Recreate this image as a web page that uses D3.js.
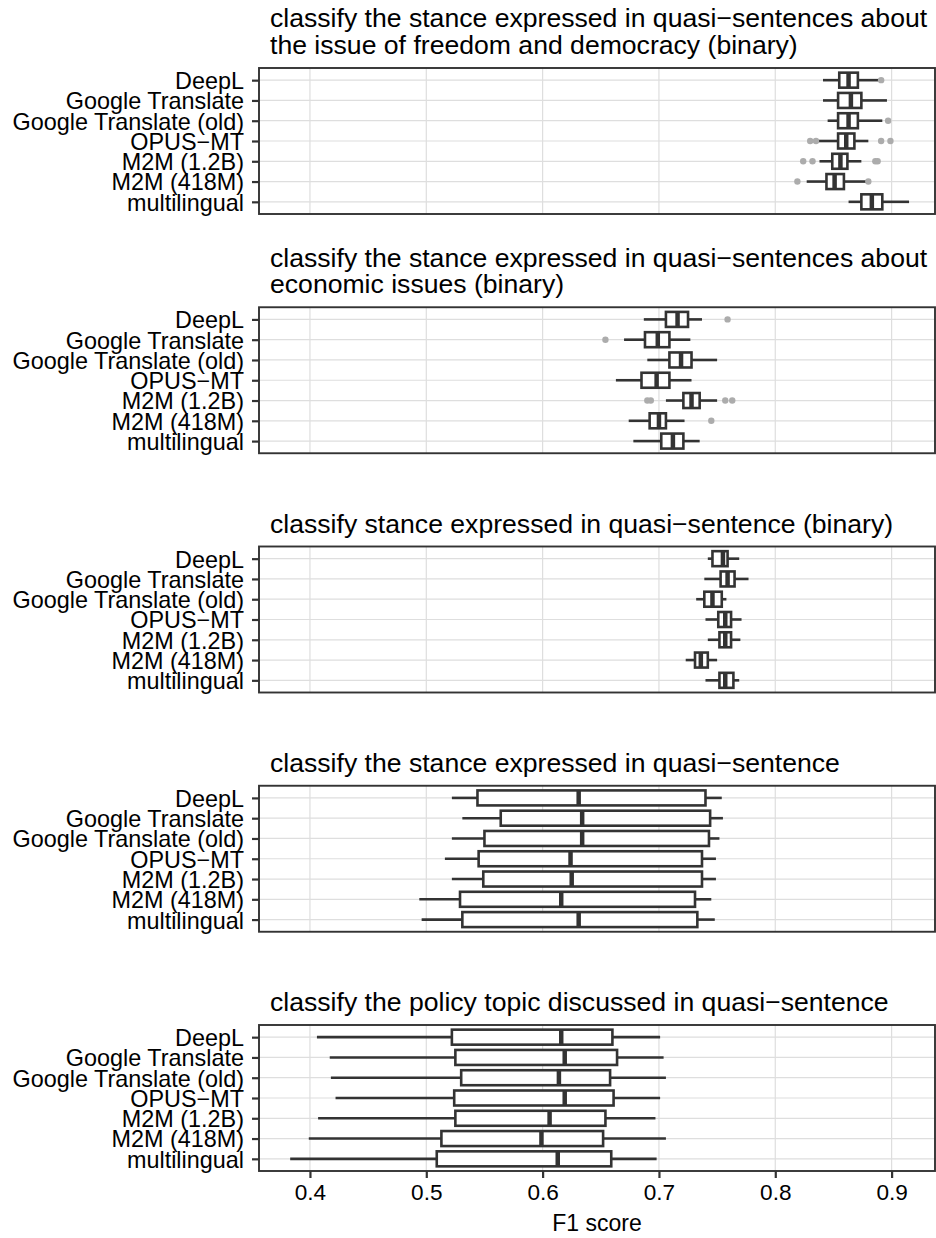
<!DOCTYPE html>
<html>
<head>
<meta charset="utf-8">
<script src="https://cdn.jsdelivr.net/npm/d3@7"></script>
<style>
  html, body { margin: 0; padding: 0; background: #ffffff; }
  svg { display: block; }
  text { font-family: "Liberation Sans", Arial, Helvetica, sans-serif; fill: #000; }
</style>
</head>
<body>
<div id="chart"></div>
<script>
// ---- data ----
const categories = ["DeepL", "Google Translate", "Google Translate (old)", "OPUS\u2212MT",
                    "M2M (1.2B)", "M2M (418M)", "multilingual"];

const panelTitles = [
  ["classify the stance expressed in quasi\u2212sentences about", "the issue of freedom and democracy (binary)"],
  ["classify the stance expressed in quasi\u2212sentences about", "economic issues (binary)"],
  ["classify stance expressed in quasi\u2212sentence (binary)"],
  ["classify the stance expressed in quasi\u2212sentence"],
  ["classify the policy topic discussed in quasi\u2212sentence"]
];

const xTicks = [0.4, 0.5, 0.6, 0.7, 0.8, 0.9];
const xLabel = "F1 score";

// [lower whisker, q1, median, q3, upper whisker] per category
const freedomStats = [
  [0.841, 0.855, 0.863, 0.871, 0.889],
  [0.841, 0.854, 0.865, 0.874, 0.896],
  [0.845, 0.854, 0.863, 0.871, 0.892],
  [0.837, 0.854, 0.861, 0.868, 0.880],
  [0.838, 0.849, 0.856, 0.862, 0.874],
  [0.827, 0.844, 0.851, 0.859, 0.879],
  [0.863, 0.874, 0.883, 0.892, 0.915]
];
const freedomOutliers = [[0.891], [], [0.897], [0.830, 0.835, 0.891, 0.899], [0.824, 0.832, 0.886, 0.888], [0.819, 0.880], []];

const economicStats = [
  [0.687, 0.706, 0.716, 0.725, 0.737],
  [0.670, 0.688, 0.699, 0.709, 0.727],
  [0.690, 0.709, 0.719, 0.728, 0.750],
  [0.663, 0.685, 0.698, 0.709, 0.728],
  [0.706, 0.721, 0.728, 0.735, 0.750],
  [0.674, 0.692, 0.700, 0.706, 0.722],
  [0.678, 0.702, 0.712, 0.721, 0.735]
];
const economicOutliers = [[0.759], [0.654], [], [], [0.690, 0.693, 0.757, 0.763], [0.745], []];

const binaryStats = [
  [0.742, 0.746, 0.755, 0.759, 0.769],
  [0.739, 0.753, 0.759, 0.765, 0.777],
  [0.732, 0.739, 0.746, 0.754, 0.758],
  [0.740, 0.751, 0.757, 0.762, 0.771],
  [0.742, 0.752, 0.757, 0.762, 0.770],
  [0.723, 0.731, 0.736, 0.742, 0.750],
  [0.740, 0.752, 0.757, 0.764, 0.769]
];
const binaryOutliers = [[], [], [], [], [], [], []];

const stanceStats = [
  [0.522, 0.544, 0.631, 0.740, 0.754],
  [0.531, 0.564, 0.634, 0.744, 0.755],
  [0.522, 0.550, 0.634, 0.743, 0.752],
  [0.516, 0.545, 0.624, 0.737, 0.749],
  [0.522, 0.549, 0.625, 0.737, 0.749],
  [0.494, 0.529, 0.616, 0.731, 0.745],
  [0.496, 0.531, 0.631, 0.733, 0.748]
];
const stanceOutliers = [[], [], [], [], [], [], []];

const topicStats = [
  [0.406, 0.522, 0.616, 0.660, 0.701],
  [0.417, 0.525, 0.619, 0.664, 0.704],
  [0.418, 0.530, 0.614, 0.658, 0.706],
  [0.422, 0.524, 0.619, 0.661, 0.701],
  [0.407, 0.525, 0.606, 0.654, 0.697],
  [0.399, 0.513, 0.599, 0.652, 0.706],
  [0.383, 0.509, 0.613, 0.659, 0.698]
];
const topicOutliers = [[], [], [], [], [], [], []];

const xDomain = [0.3562, 0.9373];

// ---- layout ----
const W = 936, H = 1238;
const panelLeft = 259, panelRight = 935;
const panelTops = [68, 307.25, 546.5, 785.75, 1025];
const panelH = 146;

const panels = [
  { title: panelTitles[0], stats: freedomStats, outliers: freedomOutliers },
  { title: panelTitles[1], stats: economicStats, outliers: economicOutliers },
  { title: panelTitles[2], stats: binaryStats, outliers: binaryOutliers },
  { title: panelTitles[3], stats: stanceStats, outliers: stanceOutliers },
  { title: panelTitles[4], stats: topicStats, outliers: topicOutliers }
];

const svg = d3.select("#chart").append("svg")
  .attr("width", W).attr("height", H)
  .attr("viewBox", `0 0 ${W} ${H}`);

const x = d3.scaleLinear().domain(xDomain).range([panelLeft, panelRight]);

const dark = "#333333";
const gridCol = "#dedede";

panels.forEach((p, i) => {
  const top = panelTops[i];
  const y = d3.scalePoint().domain(categories).range([top, top + panelH]).padding(0.6);
  const step = y.step();
  const boxH = step * 0.74;
  const g = svg.append("g");

  // title
  const nLines = p.title.length;
  p.title.forEach((line, k) => {
    g.append("text")
      .attr("x", 270)
      .attr("y", top - 14 - (nLines - 1 - k) * 26.7)
      .attr("font-size", 26.6)
      .text(line);
  });

  // background grid
  g.append("g").selectAll("line").data(xTicks).join("line")
    .attr("x1", d => x(d)).attr("x2", d => x(d))
    .attr("y1", top).attr("y2", top + panelH)
    .attr("stroke", gridCol).attr("stroke-width", 1.2);
  g.append("g").selectAll("line").data(categories).join("line")
    .attr("x1", panelLeft).attr("x2", panelRight)
    .attr("y1", d => y(d)).attr("y2", d => y(d))
    .attr("stroke", gridCol).attr("stroke-width", 1.2);

  // boxes
  const rows = categories.map((c, j) => ({ cat: c, s: p.stats[j], out: p.outliers[j] }));
  const bg = g.append("g");
  rows.forEach(r => {
    const cy = y(r.cat);
    const [lo, q1, med, q3, hi] = r.s;
    bg.append("line").attr("x1", x(lo)).attr("x2", x(q1)).attr("y1", cy).attr("y2", cy)
      .attr("stroke", dark).attr("stroke-width", 2.6);
    bg.append("line").attr("x1", x(q3)).attr("x2", x(hi)).attr("y1", cy).attr("y2", cy)
      .attr("stroke", dark).attr("stroke-width", 2.6);
    bg.append("rect").attr("x", x(q1)).attr("y", cy - boxH / 2)
      .attr("width", x(q3) - x(q1)).attr("height", boxH)
      .attr("fill", "#ffffff").attr("stroke", dark).attr("stroke-width", 2.6);
    bg.append("line").attr("x1", x(med)).attr("x2", x(med))
      .attr("y1", cy - boxH / 2).attr("y2", cy + boxH / 2)
      .attr("stroke", dark).attr("stroke-width", 4.5);
    bg.selectAll(null).data(r.out).join("circle")
      .attr("cx", d => x(d)).attr("cy", cy).attr("r", 3.2)
      .attr("fill", "#acacac");
  });

  // border
  g.append("rect").attr("x", panelLeft).attr("y", top)
    .attr("width", panelRight - panelLeft).attr("height", panelH)
    .attr("fill", "none").attr("stroke", dark).attr("stroke-width", 1.9);

  // y axis
  const yAxis = d3.axisLeft(y).tickSize(7).tickPadding(8);
  const ya = g.append("g").attr("transform", `translate(${panelLeft},0)`).call(yAxis);
  ya.select(".domain").remove();
  ya.selectAll(".tick line").attr("stroke", dark).attr("stroke-width", 2.2);
  ya.selectAll(".tick text")
    .attr("font-size", 23.4)
    .attr("font-family", "'Liberation Sans', Arial, sans-serif")
    .attr("fill", "#000")
    .attr("dy", "0.36em");

  // x axis on last panel
  if (i === panels.length - 1) {
    const xAxis = d3.axisBottom(x).tickValues(xTicks).tickFormat(d3.format(".1f")).tickSize(7).tickPadding(6);
    const xa = g.append("g").attr("transform", `translate(0,${top + panelH})`).call(xAxis);
    xa.select(".domain").remove();
    xa.selectAll(".tick line").attr("stroke", dark).attr("stroke-width", 2.2);
    xa.selectAll(".tick text")
      .attr("font-size", 22.6)
      .attr("font-family", "'Liberation Sans', Arial, sans-serif")
      .attr("fill", "#000");
    g.append("text")
      .attr("x", (panelLeft + panelRight) / 2)
      .attr("y", 1231)
      .attr("text-anchor", "middle")
      .attr("font-size", 23)
      .text(xLabel);
  }
});
</script>
</body>
</html>
